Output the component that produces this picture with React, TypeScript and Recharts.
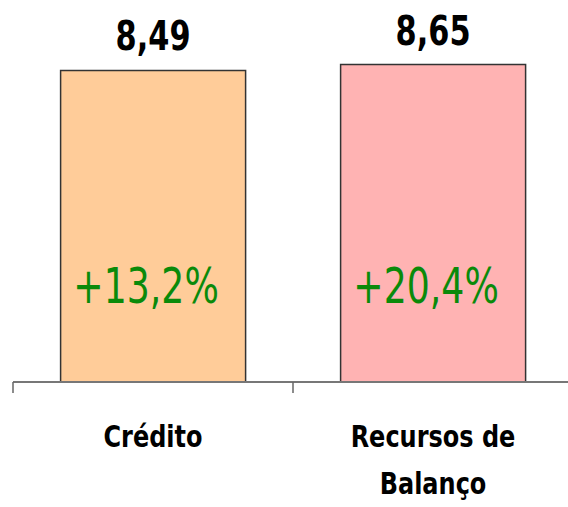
import React from "react";
import { BarChart, Bar, XAxis, YAxis, Cell, LabelList } from "recharts";

const categories = ["Crédito", "Recursos de\nBalanço"];
const values = [8.49, 8.65];
const growth = ["+13,2%", "+20,4%"];
const barColors = ["#FFCC99", "#FFB3B3"];

const data = categories.map((name, i) => ({
    name,
    value: values[i],
    growth: growth[i],
}));

const FONT = "'DejaVu Sans', Verdana, sans-serif";

// squeezes text horizontally so it looks like the narrow Tahoma in the slide
function NarrowText({ x, y, text, size, weight, fill, squeeze }: any) {
    return (
        <text
            transform={`translate(${x},${y}) scale(${squeeze},1)`}
            textAnchor="middle"
            fontFamily={FONT}
            fontSize={size}
            fontWeight={weight}
            fill={fill}
        >
            {text}
        </text>
    );
}

function CategoryTick(props: any) {
    const { x, y, payload } = props;
    const lines = String(payload.value).split("\n");
    const edge = x - (payload.offset ?? 0);
    return (
        <g>
            <line x1={edge} y1={y} x2={edge} y2={y + 11} stroke="#666" strokeWidth={1.5} />
            {lines.map((line, i) => (
                <NarrowText
                    key={i}
                    x={x}
                    y={y + 65 + i * 47}
                    text={line}
                    size={30}
                    weight="bold"
                    fill="#000"
                    squeeze={0.8}
                />
            ))}
        </g>
    );
}

function ValueLabel(props: any) {
    const { x, y, width, value } = props;
    return (
        <NarrowText
            x={x + width / 2}
            y={y - 20}
            text={String(value).replace(".", ",")}
            size={40}
            weight="bold"
            fill="#000"
            squeeze={0.76}
        />
    );
}

function GrowthLabel(props: any) {
    const { x, y, width, height, value } = props;
    return (
        <NarrowText
            x={x + width / 2 - 7}
            y={y + height - 79}
            text={value}
            size={49}
            weight="normal"
            fill="#0A8A0A"
            squeeze={0.74}
        />
    );
}

export default function App() {
    return (
        <div style={{ position: "absolute", left: 0, top: 0, width: 568, height: 507, overflow: "hidden", background: "#fff" }}>
            <BarChart
                width={573}
                height={507}
                data={data}
                margin={{ top: 15, right: 0, left: 13, bottom: 0 }}
                barCategoryGap="17%"
            >
                <XAxis
                    dataKey="name"
                    height={125}
                    axisLine={{ stroke: "#777", strokeWidth: 2 }}
                    tickLine={false}
                    tickSize={0}
                    tickMargin={0}
                    tick={<CategoryTick />}
                    interval={0}
                />
                <YAxis hide domain={[0, 10]} />
                <Bar dataKey="value" stroke="#333" strokeWidth={1.5} isAnimationActive={false}>
                    {data.map((d, i) => (
                        <Cell key={d.name} fill={barColors[i]} />
                    ))}
                    <LabelList dataKey="value" content={<ValueLabel />} />
                    <LabelList dataKey="growth" content={<GrowthLabel />} />
                </Bar>
            </BarChart>
        </div>
    );
}
